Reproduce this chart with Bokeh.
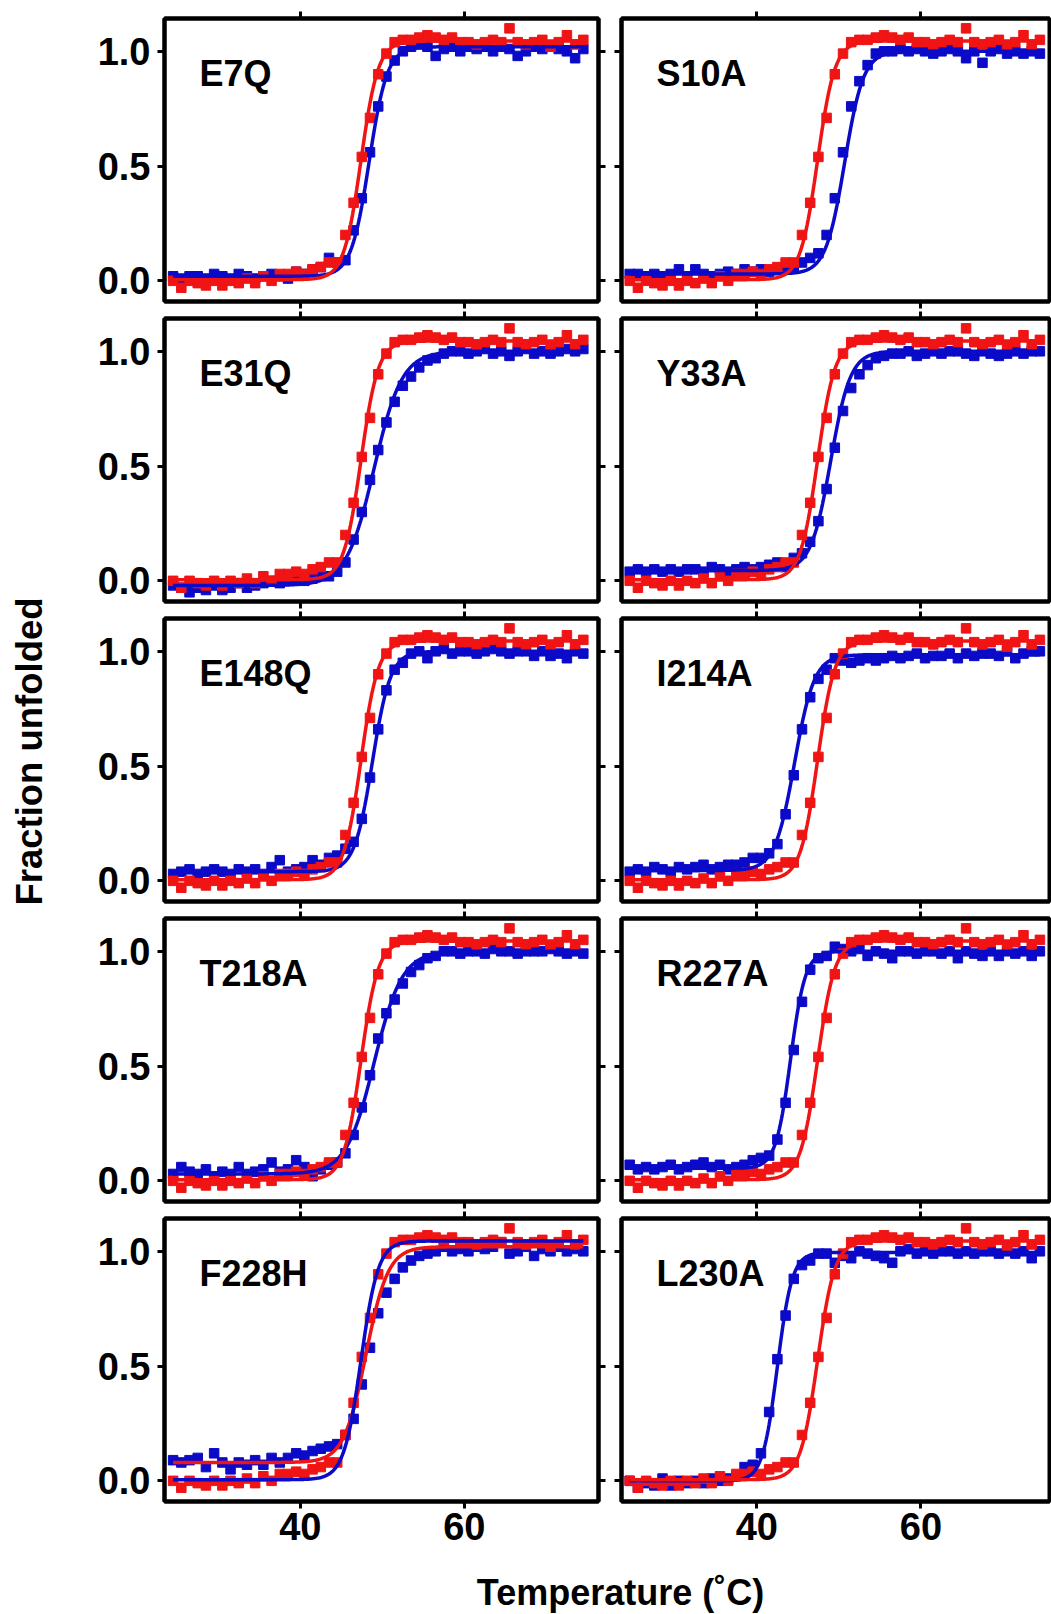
import numpy as np
from bokeh.plotting import figure
from bokeh.models import LinearAxis, FixedTicker, Range1d, Label, PrintfTickFormatter
from bokeh.layouts import row, column
from bokeh.embed import file_html
from bokeh.resources import INLINE

# ---------------- data ----------------
temperature = [24.5, 25.5, 26.5, 27.5, 28.5, 29.5, 30.5, 31.5, 32.5, 33.5,
               34.5, 35.5, 36.5, 37.5, 38.5, 39.5, 40.5, 41.5, 42.5, 43.5,
               44.5, 45.5, 46.5, 47.5, 48.5, 49.5, 50.5, 51.5, 52.5, 53.5,
               54.5, 55.5, 56.5, 57.5, 58.5, 59.5, 60.5, 61.5, 62.5, 63.5,
               64.5, 65.5, 66.5, 67.5, 68.5, 69.5, 70.5, 71.5, 72.5, 73.5, 74.5]

# wild type (red squares, identical in every panel)
wt_fraction = [0.00, -0.03, 0.00, -0.01, -0.02, 0.00, -0.02, 0.00, -0.01, 0.01,
               -0.01, 0.02, 0.00, 0.03, 0.03, 0.04, 0.03, 0.05, 0.06, 0.08, 0.08,
               0.20, 0.34, 0.54, 0.71, 0.90, 0.99, 1.04, 1.05, 1.05, 1.06,
               1.07, 1.06, 1.05, 1.06, 1.04, 1.04, 1.03, 1.04, 1.05, 1.04,
               1.10, 1.04, 1.03, 1.04, 1.05, 1.02, 1.04, 1.07, 1.03, 1.05]

mutant_names = ["E7Q", "S10A", "E31Q", "Y33A", "E148Q",
                "I214A", "T218A", "R227A", "F228H", "L230A"]

# mutant (blue squares)
e7q = [0.02, 0.01, 0.02, 0.02, 0.01, 0.03, 0.02, 0.01, 0.03, 0.02, 0.01, 0.02, 0.03, 0.02, 0.01, 0.04, 0.03, 0.05,
       0.06, 0.10, 0.08, 0.09, 0.22, 0.36, 0.56, 0.76, 0.89, 0.96, 1.00, 1.02, 1.03, 1.02, 0.98, 1.01, 1.02, 1.00,
       1.02, 1.01, 1.02, 1.00, 1.02, 1.01, 0.98, 1.00, 1.02, 1.01, 1.02, 1.01, 1.00, 0.97, 1.01]
s10a = [0.03, 0.03, 0.02, 0.03, 0.02, 0.03, 0.05, 0.02, 0.05, 0.03, 0.02, 0.03, 0.04, 0.03, 0.05, 0.04, 0.05, 0.04,
        0.05, 0.06, 0.06, 0.08, 0.10, 0.12, 0.20, 0.36, 0.56, 0.76, 0.87, 0.94, 0.99, 1.00, 1.00, 1.01, 1.00, 1.01,
        1.00, 0.99, 1.00, 1.01, 1.00, 0.97, 1.00, 0.95, 1.00, 1.01, 0.99, 1.00, 0.99, 1.00, 0.99]
e31q = [-0.02, -0.03, -0.05, -0.03, -0.04, -0.02, -0.04, -0.03, -0.01, -0.03, -0.02, -0.01, 0.00, -0.01, 0.00,
        0.01, 0.00, 0.01, 0.02, 0.02, 0.04, 0.08, 0.18, 0.30, 0.44, 0.57, 0.69, 0.78, 0.85, 0.89, 0.93, 0.96,
        0.97, 0.99, 1.00, 1.00, 0.99, 1.00, 1.01, 0.99, 1.00, 0.98, 1.00, 1.01, 0.99, 1.00, 0.99, 1.00, 1.01, 1.00, 1.01]
y33a = [0.04, 0.05, 0.04, 0.05, 0.04, 0.05, 0.04, 0.05, 0.05, 0.04, 0.06, 0.05, 0.04, 0.05, 0.06, 0.05, 0.06, 0.07,
        0.08, 0.06, 0.10, 0.12, 0.17, 0.26, 0.40, 0.58, 0.74, 0.84, 0.90, 0.94, 0.97, 0.98, 0.99, 0.99, 1.00, 0.98,
        0.99, 1.00, 0.99, 1.00, 1.00, 0.99, 0.98, 1.00, 0.99, 0.98, 0.99, 1.00, 0.99, 1.00, 1.00]
e148q = [0.03, 0.04, 0.05, 0.03, 0.04, 0.05, 0.04, 0.03, 0.05, 0.04, 0.05, 0.03, 0.06, 0.09, 0.04, 0.05, 0.06, 0.09,
         0.07, 0.10, 0.11, 0.14, 0.17, 0.27, 0.45, 0.66, 0.83, 0.92, 0.95, 0.99, 1.00, 0.97, 1.00, 1.01, 0.99, 1.00,
         1.00, 0.99, 1.00, 1.01, 1.00, 0.99, 1.00, 1.00, 0.98, 1.00, 0.98, 0.99, 0.97, 1.00, 0.99]
i214a = [0.04, 0.05, 0.04, 0.06, 0.05, 0.04, 0.06, 0.05, 0.06, 0.07, 0.05, 0.06, 0.07, 0.07,
         0.08, 0.10, 0.10, 0.12, 0.16, 0.29, 0.46, 0.66, 0.80, 0.88, 0.92, 0.97, 0.96, 0.95, 0.96, 0.97,
         0.96, 0.97, 0.98, 0.97, 0.98, 0.99, 0.97, 0.98, 0.98, 0.99, 0.97, 0.99, 0.98, 0.99, 0.99, 0.98,
         1.00, 0.97, 0.99, 1.00, 1.00]
t218a = [0.03, 0.06, 0.04, 0.03, 0.05, 0.02, 0.04, 0.03, 0.06, 0.03, 0.04, 0.05, 0.08, 0.04, 0.05, 0.09, 0.06, 0.02,
         0.05, 0.07, 0.08, 0.12, 0.20, 0.32, 0.46, 0.62, 0.73, 0.79, 0.86, 0.91, 0.94, 0.97, 0.98, 1.00, 1.00, 0.99,
         1.00, 1.00, 0.99, 1.01, 1.00, 1.00, 0.99, 1.00, 1.00, 1.00, 1.01, 1.00, 0.99, 1.00, 0.99]
r227a = [0.07, 0.05, 0.06, 0.05, 0.06, 0.07, 0.05, 0.06, 0.07, 0.08, 0.06, 0.07, 0.05, 0.06, 0.07, 0.09, 0.10,
         0.11, 0.18, 0.34, 0.57, 0.78, 0.92, 0.97, 0.98, 1.02, 1.01, 1.00, 1.01, 0.98, 1.00, 0.99, 0.97, 1.00,
         1.00, 0.99, 1.00, 1.00, 0.99, 1.00, 0.97, 1.00, 0.99, 0.98, 1.00, 0.98, 1.00, 0.99, 1.00, 0.98, 1.00]
f228h = [0.09, 0.08, 0.09, 0.10, 0.06, 0.12, 0.08, 0.05, 0.08, 0.07, 0.09, 0.07, 0.10, 0.08, 0.10, 0.12, 0.11, 0.13,
         0.14, 0.15, 0.16, 0.20, 0.27, 0.42, 0.58, 0.73, 0.82, 0.88, 0.93, 0.96, 0.98, 0.99, 1.00, 1.02, 1.00, 1.01,
         1.00, 1.02, 1.01, 1.02, 1.04, 0.99, 1.00, 1.02, 0.98, 1.01, 1.00, 1.02, 1.00, 1.01, 1.00]
l230a = [0.00, -0.03, -0.01, -0.02, 0.01, -0.02, 0.00, -0.01, 0.00, -0.01, 0.01, 0.00, 0.01, 0.02,
         0.06, 0.07, 0.12, 0.30, 0.53, 0.72, 0.88, 0.94, 0.96, 0.99, 0.99, 0.95, 0.98, 0.97, 1.00, 0.99,
         0.98, 0.97, 0.95, 1.00, 1.01, 0.99, 1.00, 0.99, 1.00, 1.00, 0.99, 1.00, 0.99, 1.00, 1.00, 0.99,
         1.00, 0.99, 1.00, 0.97, 1.00]
mutant_fraction = [e7q, s10a, e31q, y33a, e148q, i214a, t218a, r227a, f228h, l230a]

# two-state fit parameters
wt_fit = dict(tm=47.4, width=1.05, low=0.005, high=1.045)
fit_tm = [48.4, 50.7, 49.0, 49.0, 48.8, 44.6, 49.0, 44.1, 48.0, 42.5]
fit_width = [1.1, 1.15, 1.7, 1.2, 1.1, 1.2, 1.7, 0.9, 1.35, 0.9]
fit_low = [0.02, 0.03, -0.02, 0.045, 0.04, 0.045, 0.03, 0.055, 0.08, 0.0]
fit_high = [1.02, 1.0, 1.0, 1.0, 1.0, 0.985, 1.0, 1.0, 1.02, 0.995]
# in the F228H panel the fit-line colours are exchanged
fit_colors_swapped = [False, False, False, False, False, False, False, False, True, False]

x_ticks = [40, 60]
y_ticks = [0.0, 0.5, 1.0]

RED = "#F01414"
BLUE = "#0A0AC8"
FONT = "Liberation Sans"


def two_state(t, tm, width, low, high):
    return low + (high - low) / (1.0 + np.exp(-(t - tm) / width))


def labelled_axis(ticks, fmt, standoff):
    ax = LinearAxis(ticker=FixedTicker(ticks=ticks, minor_ticks=[]))
    ax.axis_line_width = 4
    ax.axis_line_color = "black"
    ax.major_tick_line_width = 3
    ax.major_tick_out = 7
    ax.major_tick_in = 0
    ax.minor_tick_out = 0
    ax.minor_tick_in = 0
    ax.formatter = PrintfTickFormatter(format=fmt)
    ax.major_label_text_font = FONT
    ax.major_label_text_font_style = "bold"
    ax.major_label_text_font_size = "38px"
    ax.major_label_text_color = "black"
    ax.major_label_standoff = standoff
    return ax


def tick_only_axis(ticks):
    # ticks drawn as (unlabelled) minor ticks so no tick labels exist
    ax = LinearAxis(ticker=FixedTicker(ticks=[], minor_ticks=ticks))
    ax.axis_line_width = 4
    ax.axis_line_color = "black"
    ax.major_tick_out = 0
    ax.major_tick_in = 0
    ax.minor_tick_line_width = 3
    ax.minor_tick_line_color = "black"
    ax.minor_tick_out = 7
    ax.minor_tick_in = 0
    ax.major_label_standoff = 0
    return ax


FRAME_H = 283
Y_RANGE = (-0.09, 1.143)
LEFT_X = (23.45, 76.35)
RIGHT_X = (23.5, 75.67)

curve_t = np.linspace(24.5, 74.5, 401)
panels = []
for i, name in enumerate(mutant_names):
    r, c = divmod(i, 2)
    left_col = (c == 0)
    xr = LEFT_X if left_col else RIGHT_X
    fw = 434 if left_col else 428
    top_b = 18 if r == 0 else 9
    bot_b = 58 if r == 4 else 8
    p = figure(frame_width=fw, frame_height=FRAME_H,
               x_range=Range1d(*xr), y_range=Range1d(*Y_RANGE),
               x_axis_location=None, y_axis_location=None,
               output_backend="svg", toolbar_location=None, title=None)
    p.xgrid.visible = False
    p.ygrid.visible = False
    p.min_border_left = 99 if left_col else 11
    p.min_border_right = 12 if left_col else 2
    p.min_border_top = top_b
    p.min_border_bottom = bot_b
    p.outline_line_color = "black"
    p.outline_line_width = 4
    p.background_fill_color = "white"
    p.border_fill_color = "white"

    # axes
    if left_col:
        p.add_layout(labelled_axis(y_ticks, "%.1f", 7), "left")
        p.add_layout(tick_only_axis(y_ticks), "right")
    else:
        p.add_layout(tick_only_axis(y_ticks), "left")
    if r == 4:
        p.add_layout(labelled_axis(x_ticks, "%d", 4), "below")
    else:
        p.add_layout(tick_only_axis(x_ticks), "below")
    p.add_layout(tick_only_axis(x_ticks), "above")

    # data
    p.scatter(temperature, mutant_fraction[i], marker="square", size=9.5,
              fill_color=BLUE, line_color=BLUE)
    p.scatter(temperature, wt_fraction, marker="square", size=9.5,
              fill_color=RED, line_color=RED)
    mut_color, wt_color = (RED, BLUE) if fit_colors_swapped[i] else (BLUE, RED)
    p.line(curve_t, two_state(curve_t, fit_tm[i], fit_width[i], fit_low[i], fit_high[i]),
           line_color=mut_color, line_width=3.5)
    p.line(curve_t, two_state(curve_t, **wt_fit), line_color=wt_color, line_width=3.5)

    p.add_layout(Label(x=xr[0] + 4.27, y=0.905, text=name, text_font=FONT,
                       text_font_style="bold", text_font_size="36px",
                       text_color="black", text_baseline="middle", text_align="left"))
    panels.append(p)

grid_h = (18 + FRAME_H + 8) + 3 * (9 + FRAME_H + 8) + (9 + FRAME_H + 58)

# y-axis title strip
yfig = figure(width=65, height=grid_h, x_range=Range1d(0, 65), y_range=Range1d(0, grid_h),
              x_axis_location=None, y_axis_location=None, output_backend="svg",
              toolbar_location=None, title=None, min_border=0)
yfig.outline_line_color = None
yfig.xgrid.visible = False
yfig.ygrid.visible = False
yfig.add_layout(Label(x=29, y=grid_h - 751, text="Fraction unfolded", angle=np.pi / 2,
                      text_font=FONT, text_font_style="bold", text_font_size="36.5px",
                      text_align="center", text_baseline="middle", text_color="black"))

# x-axis title strip
xh = 1614 - grid_h
xfig = figure(width=1051, height=xh, x_range=Range1d(0, 1051), y_range=Range1d(0, xh),
              x_axis_location=None, y_axis_location=None, output_backend="svg",
              toolbar_location=None, title=None, min_border=0)
xfig.outline_line_color = None
xfig.xgrid.visible = False
xfig.ygrid.visible = False
xfig.add_layout(Label(x=620, y=22, text="Temperature (\u02daC)",
                      text_font=FONT, text_font_style="bold", text_font_size="36px",
                      text_align="center", text_baseline="middle", text_color="black"))

rows = [row(panels[2 * k], panels[2 * k + 1]) for k in range(5)]
layout = column(row(yfig, column(*rows)), xfig)

open("out.html", "w").write(file_html(layout, INLINE))
